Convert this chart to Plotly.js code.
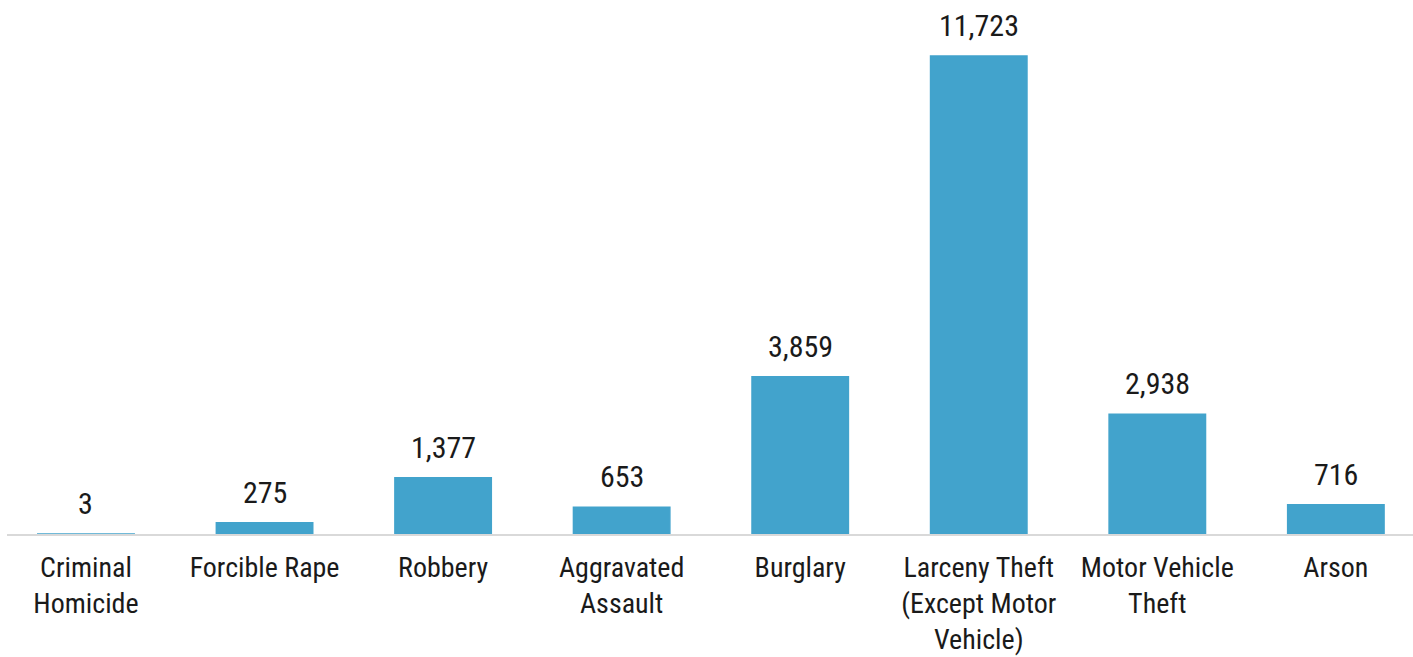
<!DOCTYPE html>
<html><head><meta charset="utf-8">
<script src="https://cdn.plot.ly/plotly-3.0.1.min.js"></script>
<style>html,body{margin:0;padding:0;background:#fff}#chart{width:1413px;height:657px}</style>
</head><body><div id="chart"></div>
<script>
const categories = ["Criminal<br>Homicide","Forcible Rape","Robbery","Aggravated<br>Assault","Burglary","Larceny Theft<br>(Except Motor<br>Vehicle)","Motor Vehicle<br>Theft","Arson"];
const values = [3, 275, 1377, 653, 3859, 11723, 2938, 716];
const valueLabels = values.map(v => v.toLocaleString('en-US'));

const FONT = '"Liberation Sans Narrow", "Arial Narrow", "Roboto Condensed", Roboto, "Liberation Sans", Arial, sans-serif';

const trace = {
  type: 'bar',
  x: categories,
  y: values,
  width: 0.54,
  marker: {color: '#42a3cc', line: {color: '#42a3cc', width: 1.5}},
  hoverinfo: 'x+y'
};

const annotations = categories.map((c, i) => ({
  x: c, y: values[i], xref: 'x', yref: 'y',
  text: valueLabels[i], showarrow: false,
  yanchor: 'bottom', yshift: 11,
  font: {family: FONT, size: 30, color: '#1a1a1a'}
}));

const layout = {
  width: 1413, height: 657,
  margin: {l: 7, r: 0, t: 0, b: 123},
  paper_bgcolor: '#fff', plot_bgcolor: '#fff',
  showlegend: false,
  xaxis: {
    type: 'category',
    range: [-0.4424, 7.432],
    showline: true, linecolor: '#d9d9d9', linewidth: 2,
    ticks: 'outside', ticklen: 7, tickcolor: 'rgba(0,0,0,0)',
    tickfont: {family: FONT, size: 28, color: '#1a1a1a'},
    showgrid: false, zeroline: false, fixedrange: true
  },
  yaxis: {
    range: [0, 13096], visible: false, showgrid: false, zeroline: false, fixedrange: true
  },
  annotations: annotations
};

Plotly.newPlot('chart', [trace], layout, {displayModeBar: false, staticPlot: true});
</script></body></html>
